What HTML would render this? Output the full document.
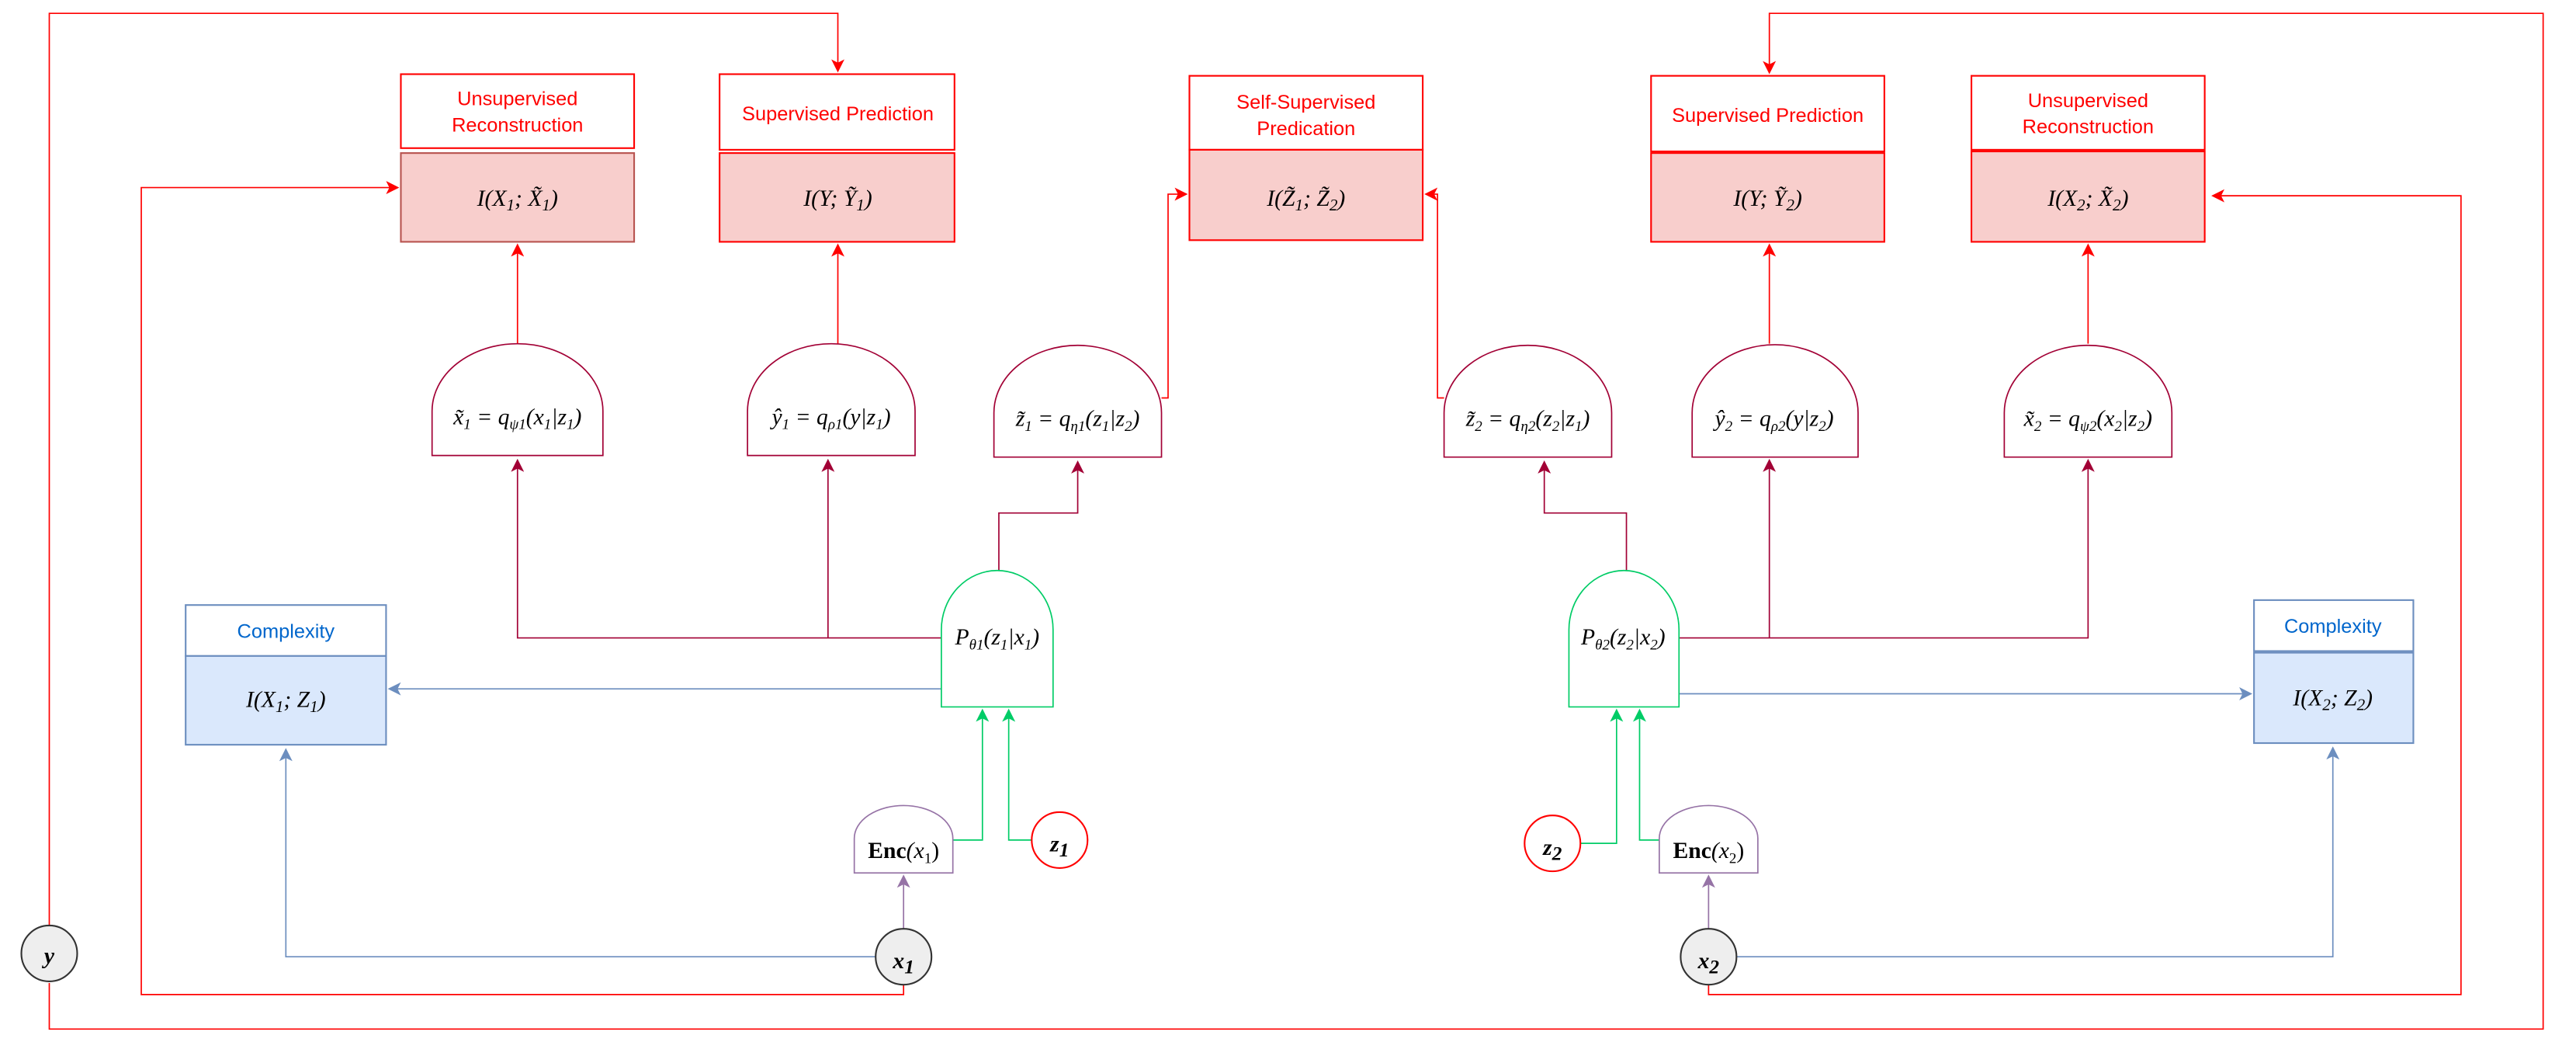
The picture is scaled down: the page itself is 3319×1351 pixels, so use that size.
<!DOCTYPE html>
<html><head><meta charset="utf-8"><style>
html,body{margin:0;padding:0;background:#fff}
svg{display:block}
.m{font-family:"Liberation Serif",serif;font-style:italic;font-size:14px;fill:#000}
.lbl{font-family:"Liberation Sans",sans-serif;font-size:12px}
</style></head><body>
<svg width="3319" height="1351" viewBox="0 0 1568 638" xmlns="http://www.w3.org/2000/svg">
<defs>
<marker id="ar" markerWidth="8" markerHeight="8" refX="7" refY="4" orient="auto" markerUnits="userSpaceOnUse"><path d="M0,0 L8,4 L0,8 L2,4Z" fill="#ff0000"/></marker>
<marker id="am" markerWidth="8" markerHeight="8" refX="7" refY="4" orient="auto" markerUnits="userSpaceOnUse"><path d="M0,0 L8,4 L0,8 L2,4Z" fill="#a20035"/></marker>
<marker id="ab" markerWidth="8" markerHeight="8" refX="7" refY="4" orient="auto" markerUnits="userSpaceOnUse"><path d="M0,0 L8,4 L0,8 L2,4Z" fill="#6c8ebf"/></marker>
<marker id="ag" markerWidth="8" markerHeight="8" refX="7" refY="4" orient="auto" markerUnits="userSpaceOnUse"><path d="M0,0 L8,4 L0,8 L2,4Z" fill="#00cc66"/></marker>
<marker id="ap" markerWidth="8" markerHeight="8" refX="7" refY="4" orient="auto" markerUnits="userSpaceOnUse"><path d="M0,0 L8,4 L0,8 L2,4Z" fill="#9673a6"/></marker>
</defs>
<g fill="none" stroke-width="0.8">
<path d="M30,563 V8 H510 V43" stroke="#ff0000" marker-end="url(#ar)"/>
<path d="M30,598 V626 H1548 V8 H1077 V44" stroke="#ff0000" marker-end="url(#ar)"/>
<path d="M550,598 V605 H86 V114 H242" stroke="#ff0000" marker-end="url(#ar)"/>
<path d="M1040,598 V605 H1498 V119 H1347" stroke="#ff0000" marker-end="url(#ar)"/>
<path d="M315,209 V149" stroke="#ff0000" marker-end="url(#ar)"/>
<path d="M510,209 V149" stroke="#ff0000" marker-end="url(#ar)"/>
<path d="M707,242 H711 V118 H722" stroke="#ff0000" marker-end="url(#ar)"/>
<path d="M879,242 H875 V118 H868" stroke="#ff0000" marker-end="url(#ar)"/>
<path d="M1077,209 V149" stroke="#ff0000" marker-end="url(#ar)"/>
<path d="M1271,209 V149" stroke="#ff0000" marker-end="url(#ar)"/>
<path d="M573,388 H315 V280" stroke="#a20035" marker-end="url(#am)"/>
<path d="M504,388 V280" stroke="#a20035" marker-end="url(#am)"/>
<path d="M608,347 V312 H656 V281" stroke="#a20035" marker-end="url(#am)"/>
<path d="M1022,388 H1271 V280" stroke="#a20035" marker-end="url(#am)"/>
<path d="M1077,388 V280" stroke="#a20035" marker-end="url(#am)"/>
<path d="M990,347 V312 H940 V281" stroke="#a20035" marker-end="url(#am)"/>
<path d="M573,419 H237" stroke="#6c8ebf" marker-end="url(#ab)"/>
<path d="M1022,422 H1370" stroke="#6c8ebf" marker-end="url(#ab)"/>
<path d="M533,582 H174 V456" stroke="#6c8ebf" marker-end="url(#ab)"/>
<path d="M1057,582 H1420 V455" stroke="#6c8ebf" marker-end="url(#ab)"/>
<path d="M580,511 H598 V432" stroke="#00cc66" marker-end="url(#ag)"/>
<path d="M628,511 H614 V432" stroke="#00cc66" marker-end="url(#ag)"/>
<path d="M962,513 H984 V432" stroke="#00cc66" marker-end="url(#ag)"/>
<path d="M1010,511 H998 V432" stroke="#00cc66" marker-end="url(#ag)"/>
<path d="M550,565 V533" stroke="#9673a6" marker-end="url(#ap)"/>
<path d="M1040,565 V533" stroke="#9673a6" marker-end="url(#ap)"/>
</g>
<g class="lbl" text-anchor="middle">
<rect x="244" y="45" width="142" height="45" fill="#fff" stroke="#ff0000"/>
<text x="315" y="64" fill="#ff0000">Unsupervised</text><text x="315" y="80" fill="#ff0000">Reconstruction</text>
<rect x="244" y="93" width="142" height="54" fill="#f8cecc" stroke="#b85450"/>
<rect x="438" y="45" width="143" height="46" fill="#fff" stroke="#ff0000"/>
<text x="510" y="73" fill="#ff0000">Supervised Prediction</text>
<rect x="438" y="93" width="143" height="54" fill="#f8cecc" stroke="#ff0000"/>
<rect x="724" y="46" width="142" height="45" fill="#fff" stroke="#ff0000"/>
<text x="795" y="66" fill="#ff0000">Self-Supervised</text><text x="795" y="82" fill="#ff0000">Predication</text>
<rect x="724" y="91" width="142" height="55" fill="#f8cecc" stroke="#ff0000"/>
<rect x="1005" y="46" width="142" height="46" fill="#fff" stroke="#ff0000"/>
<text x="1076" y="74" fill="#ff0000">Supervised Prediction</text>
<rect x="1005" y="93" width="142" height="54" fill="#f8cecc" stroke="#ff0000"/>
<rect x="1200" y="46" width="142" height="45" fill="#fff" stroke="#ff0000"/>
<text x="1271" y="65" fill="#ff0000">Unsupervised</text><text x="1271" y="81" fill="#ff0000">Reconstruction</text>
<rect x="1200" y="92" width="142" height="55" fill="#f8cecc" stroke="#ff0000"/>
<rect x="113" y="368" width="122" height="31" fill="#fff" stroke="#6c8ebf"/>
<text x="174" y="388" fill="#0066cc">Complexity</text>
<rect x="113" y="399" width="122" height="54" fill="#dae8fc" stroke="#6c8ebf"/>
<rect x="1372" y="365" width="97" height="31" fill="#fff" stroke="#6c8ebf"/>
<text x="1420" y="385" fill="#0066cc">Complexity</text>
<rect x="1372" y="397" width="97" height="55" fill="#dae8fc" stroke="#6c8ebf"/>
</g>
<g class="m" text-anchor="middle">
<text x="315" y="125">I(X<tspan font-size="10" dy="3">1</tspan><tspan dy="-3">; X̃</tspan><tspan font-size="10" dy="3">1</tspan><tspan dy="-3">)</tspan></text>
<text x="510" y="125">I(Y; Ỹ<tspan font-size="10" dy="3">1</tspan><tspan dy="-3">)</tspan></text>
<text x="795" y="125">I(Z̃<tspan font-size="10" dy="3">1</tspan><tspan dy="-3">; Z̃</tspan><tspan font-size="10" dy="3">2</tspan><tspan dy="-3">)</tspan></text>
<text x="1076" y="125">I(Y; Ỹ<tspan font-size="10" dy="3">2</tspan><tspan dy="-3">)</tspan></text>
<text x="1271" y="125">I(X<tspan font-size="10" dy="3">2</tspan><tspan dy="-3">; X̃</tspan><tspan font-size="10" dy="3">2</tspan><tspan dy="-3">)</tspan></text>
<text x="174" y="430">I(X<tspan font-size="10" dy="3">1</tspan><tspan dy="-3">; Z</tspan><tspan font-size="10" dy="3">1</tspan><tspan dy="-3">)</tspan></text>
<text x="1420" y="429">I(X<tspan font-size="10" dy="3">2</tspan><tspan dy="-3">; Z</tspan><tspan font-size="10" dy="3">2</tspan><tspan dy="-3">)</tspan></text>
</g>
<g fill="#fff" stroke="#a20035" stroke-width="0.8">
<path d="M263,277 V250 A52,41 0 0 1 367,250 V277 Z"/>
<path d="M455,277 V250 A51,41 0 0 1 557,250 V277 Z"/>
<path d="M605,278 V251 A51,41 0 0 1 707,251 V278 Z"/>
<path d="M879,278 V251 A51,41 0 0 1 981,251 V278 Z"/>
<path d="M1030,278 V251 A50,41 0 0 1 1131,251 V278 Z"/>
<path d="M1220,278 V251 A51,41 0 0 1 1322,251 V278 Z"/>
</g>
<path d="M573,430 V383 A34,36 0 0 1 641,383 V430 Z" fill="#fff" stroke="#00cc66" stroke-width="0.8"/>
<path d="M955,430 V383 A33.5,36 0 0 1 1022,383 V430 Z" fill="#fff" stroke="#00cc66" stroke-width="0.8"/>
<path d="M520,531 V510 A30,20 0 0 1 580,510 V531 Z" fill="#fff" stroke="#9673a6" stroke-width="0.8"/>
<path d="M1010,531 V510 A30,20 0 0 1 1070,510 V531 Z" fill="#fff" stroke="#9673a6" stroke-width="0.8"/>
<g class="m" text-anchor="middle" font-size="13">
<text x="315" y="258">x̃<tspan font-size="9" dy="3">1</tspan><tspan dy="-3"> = q</tspan><tspan font-size="9" dy="3">ψ1</tspan><tspan dy="-3">(x</tspan><tspan font-size="9" dy="3">1</tspan><tspan dy="-3">|z</tspan><tspan font-size="9" dy="3">1</tspan><tspan dy="-3">)</tspan></text>
<text x="506" y="258">ŷ<tspan font-size="9" dy="3">1</tspan><tspan dy="-3"> = q</tspan><tspan font-size="9" dy="3">ρ1</tspan><tspan dy="-3">(y|z</tspan><tspan font-size="9" dy="3">1</tspan><tspan dy="-3">)</tspan></text>
<text x="656" y="259">z̃<tspan font-size="9" dy="3">1</tspan><tspan dy="-3"> = q</tspan><tspan font-size="9" dy="3">η1</tspan><tspan dy="-3">(z</tspan><tspan font-size="9" dy="3">1</tspan><tspan dy="-3">|z</tspan><tspan font-size="9" dy="3">2</tspan><tspan dy="-3">)</tspan></text>
<text x="930" y="259">z̃<tspan font-size="9" dy="3">2</tspan><tspan dy="-3"> = q</tspan><tspan font-size="9" dy="3">η2</tspan><tspan dy="-3">(z</tspan><tspan font-size="9" dy="3">2</tspan><tspan dy="-3">|z</tspan><tspan font-size="9" dy="3">1</tspan><tspan dy="-3">)</tspan></text>
<text x="1080" y="259">ŷ<tspan font-size="9" dy="3">2</tspan><tspan dy="-3"> = q</tspan><tspan font-size="9" dy="3">ρ2</tspan><tspan dy="-3">(y|z</tspan><tspan font-size="9" dy="3">2</tspan><tspan dy="-3">)</tspan></text>
<text x="1271" y="259">x̃<tspan font-size="9" dy="3">2</tspan><tspan dy="-3"> = q</tspan><tspan font-size="9" dy="3">ψ2</tspan><tspan dy="-3">(x</tspan><tspan font-size="9" dy="3">2</tspan><tspan dy="-3">|z</tspan><tspan font-size="9" dy="3">2</tspan><tspan dy="-3">)</tspan></text>
<text x="607" y="392">P<tspan font-size="9" dy="3">θ1</tspan><tspan dy="-3">(z</tspan><tspan font-size="9" dy="3">1</tspan><tspan dy="-3">|x</tspan><tspan font-size="9" dy="3">1</tspan><tspan dy="-3">)</tspan></text>
<text x="988" y="392">P<tspan font-size="9" dy="3">θ2</tspan><tspan dy="-3">(z</tspan><tspan font-size="9" dy="3">2</tspan><tspan dy="-3">|x</tspan><tspan font-size="9" dy="3">2</tspan><tspan dy="-3">)</tspan></text>
<text x="550" y="522" font-style="normal" font-weight="bold">Enc<tspan font-weight="normal" font-style="italic">(x</tspan><tspan font-weight="normal" font-size="9" dy="3">1</tspan><tspan font-weight="normal" dy="-3">)</tspan></text>
<text x="1040" y="522" font-style="normal" font-weight="bold">Enc<tspan font-weight="normal" font-style="italic">(x</tspan><tspan font-weight="normal" font-size="9" dy="3">2</tspan><tspan font-weight="normal" dy="-3">)</tspan></text>
</g>
<ellipse cx="645" cy="511" rx="17" ry="17" fill="#fff" stroke="#ff0000"/>
<ellipse cx="945" cy="513" rx="17" ry="17" fill="#fff" stroke="#ff0000"/>
<ellipse cx="550" cy="582" rx="17" ry="17" fill="#eeeeee" stroke="#333"/>
<ellipse cx="1040" cy="582" rx="17" ry="17" fill="#eeeeee" stroke="#333"/>
<ellipse cx="30" cy="580" rx="17" ry="17" fill="#eeeeee" stroke="#333"/>
<g class="m" text-anchor="middle" font-size="19" font-weight="bold">
<text x="645" y="518">z<tspan font-size="12" dy="3">1</tspan></text>
<text x="945" y="520">z<tspan font-size="12" dy="3">2</tspan></text>
<text x="550" y="589">x<tspan font-size="12" dy="3">1</tspan></text>
<text x="1040" y="589">x<tspan font-size="12" dy="3">2</tspan></text>
<text x="30" y="586">y</text>
</g>
</svg>
</body></html>
